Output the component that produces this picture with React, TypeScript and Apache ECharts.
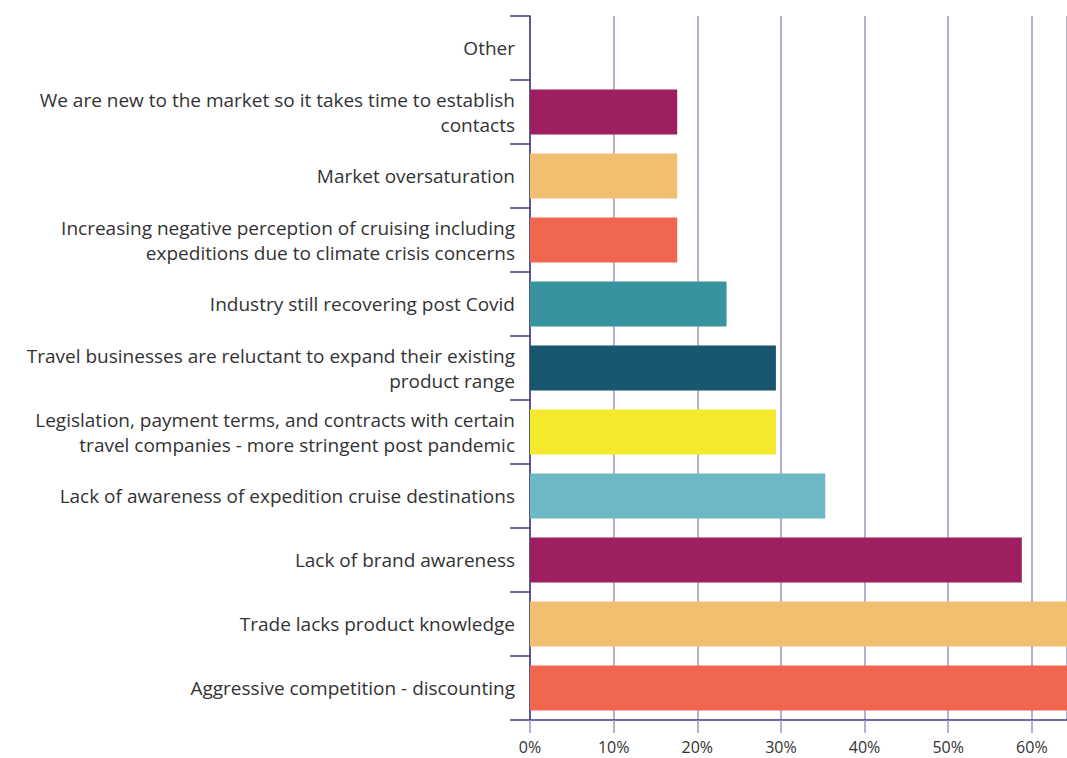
import React, { useEffect, useRef } from "react";
import * as echarts from "echarts";

const categories: string[] = [
  "Other",
  "We are new to the market so it takes time to establish\ncontacts",
  "Market oversaturation",
  "Increasing negative perception of cruising including\nexpeditions due to climate crisis concerns",
  "Industry still recovering post Covid",
  "Travel businesses are reluctant to expand their existing\nproduct range",
  "Legislation, payment terms, and contracts with certain\ntravel companies - more stringent post pandemic",
  "Lack of awareness of expedition cruise destinations",
  "Lack of brand awareness",
  "Trade lacks product knowledge",
  "Aggressive competition - discounting",
];

const values: number[] = [0, 17.6, 17.6, 17.6, 23.5, 29.4, 29.4, 35.3, 58.8, 64.7, 64.7];

const barColors: string[] = [
  "#6db8c5",
  "#9e1f60",
  "#f0bf6f",
  "#f0664e",
  "#3892a0",
  "#17566e",
  "#f5e92e",
  "#6db8c5",
  "#9e1f60",
  "#f0bf6f",
  "#f0664e",
];

const xTicks = { min: 0, max: 64.2, interval: 10 };

const FONT = "'Open Sans', sans-serif";
const AXIS = "#3d3d85";
const GRID = "#9a98c0";
const TEXT = "#333333";

export default function App() {
  const ref = useRef<HTMLDivElement>(null);
  useEffect(() => {
    if (!ref.current) return;
    const chart = echarts.init(ref.current, null, { renderer: "svg" });
    chart.setOption({
      animation: false,
      grid: { left: 530, right: 0, top: 16, bottom: 38, containLabel: false },
      xAxis: {
        type: "value",
        min: xTicks.min,
        max: xTicks.max,
        interval: xTicks.interval,
        axisLine: { show: true, lineStyle: { color: AXIS, width: 1.5 } },
        axisTick: { show: true, length: 13, lineStyle: { color: GRID, width: 1.5 } },
        splitLine: { show: true, lineStyle: { color: GRID, width: 1.5 } },
        axisLabel: {
          formatter: (v: number) => (v % 10 === 0 ? `${v}%` : ""),
          showMaxLabel: false,
          color: TEXT,
          fontFamily: FONT,
          fontSize: 16,
          margin: 19,
        },
      },
      yAxis: {
        type: "category",
        inverse: true,
        data: categories,
        axisLine: { show: true, lineStyle: { color: AXIS, width: 1.5 } },
        axisTick: { show: true, length: 20, lineStyle: { color: AXIS, width: 1.5 } },
        axisLabel: {
          color: TEXT,
          fontFamily: FONT,
          fontSize: 19,
          lineHeight: 25,
          margin: 15,
          align: "right",
        },
      },
      series: [
        {
          type: "bar",
          data: values.map((v, i) => ({ value: v, itemStyle: { color: barColors[i] } })),
          barCategoryGap: "30%",
          clip: true,
        },
      ],
    });
    return () => chart.dispose();
  }, []);
  return <div ref={ref} style={{ width: 1067, height: 758, position: "absolute", left: 0, top: 0 }} />;
}
